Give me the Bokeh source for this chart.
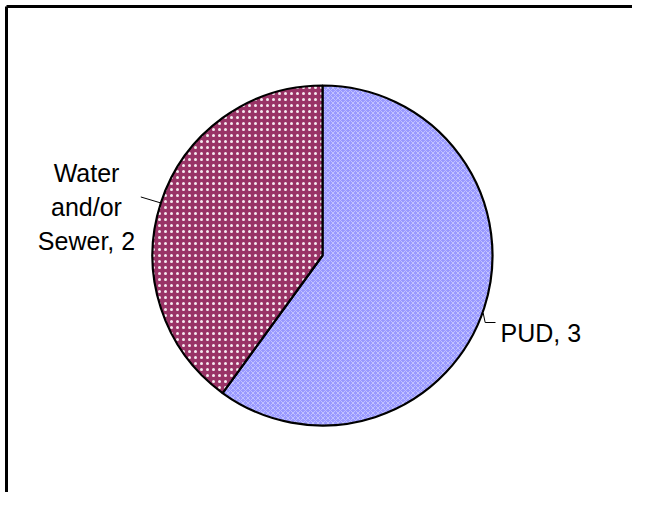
import math
from bokeh.plotting import figure
from bokeh.models import Range1d
from bokeh.core.properties import value
from bokeh.embed import file_html
from bokeh.resources import INLINE

# ---- data ----
categories = ["PUD", "Water and/or Sewer"]
counts = [3, 2]
label_lines = [["PUD, 3"], ["Water", "and/or", "Sewer, 2"]]

W, H = 632, 492
p = figure(width=W, height=H, output_backend="svg", toolbar_location=None,
           x_range=Range1d(0, W), y_range=Range1d(0, H), min_border=0)
p.axis.visible = False
p.grid.visible = False
p.outline_line_color = None
p.background_fill_color = "white"
p.border_fill_color = "white"

# chart border (left and top visible)
p.line([6, 6], [0, H - 6], line_color="black", line_width=3)
p.line([6, W], [H - 6, H - 6], line_color="black", line_width=3)

cx, cy, r = 322, 237, 170
total = float(sum(counts))

pud_sweep = 2 * math.pi * counts[0] / total
wat_sweep = 2 * math.pi * counts[1] / total
top = math.pi / 2

p.wedge(x=[cx], y=[cy], radius=r, start_angle=[top - pud_sweep], end_angle=[top],
        fill_color="#9999FF", line_color="black", line_width=2.2,
        hatch_pattern="diagonal_cross", hatch_color="white", hatch_alpha=0.4,
        hatch_scale=5, hatch_weight=1)
p.wedge(x=[cx], y=[cy], radius=r, start_angle=[top], end_angle=[top + wat_sweep],
        fill_color="#993366", line_color="black", line_width=2.2,
        hatch_pattern="dot", hatch_color="white", hatch_alpha=0.9,
        hatch_scale=6, hatch_weight=1.6)

font = value("Liberation Sans")
fs = "25px"

# PUD label
pud_mid = top - pud_sweep / 2
sx, sy = cx + r * math.cos(pud_mid), cy + r * math.sin(pud_mid)
lx, ly = 500, 160
p.line([sx - 1, sx + 1, lx - 5], [sy - 5, ly + 10, ly + 10], line_color="black", line_width=1)
p.text(x=[lx], y=[ly], text=label_lines[0], text_font=font, text_font_size=fs,
       text_color="black", text_baseline="alphabetic", text_align="left")

# Water label
wat_mid = top + wat_sweep / 2
wx, wy = cx + r * math.cos(wat_mid), cy + r * math.sin(wat_mid)
p.line([wx, wx - 20], [wy, wy + 6], line_color="black", line_width=1)
p.text(x=[86, 86, 86], y=[320, 286, 252], text=label_lines[1], text_font=font,
       text_font_size=fs, text_color="black", text_baseline="alphabetic", text_align="center")

open("out.html", "w").write(file_html(p, INLINE))
